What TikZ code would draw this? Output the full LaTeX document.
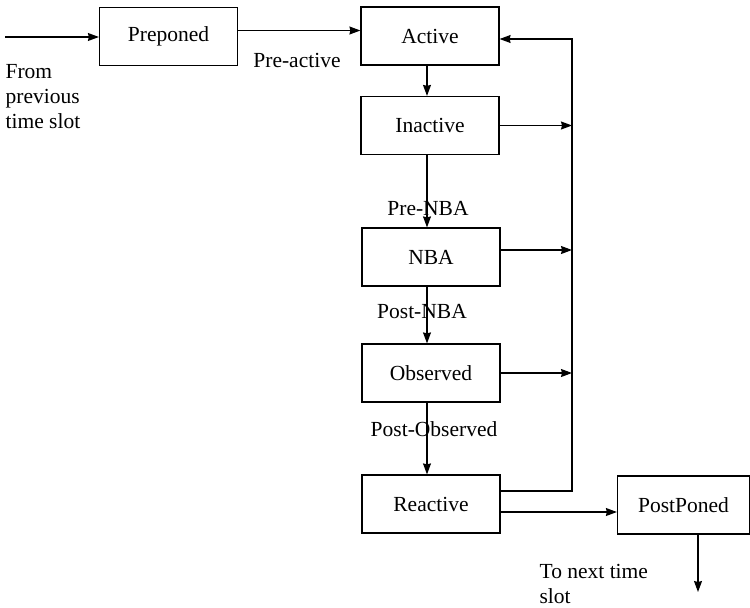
\documentclass[tikz,border=0pt]{standalone}
\usepackage{fontspec}
\setmainfont{Liberation Serif}
\usetikzlibrary{arrows.meta}
\usetikzlibrary{calc,positioning}

\begin{document}
\begin{tikzpicture}[>={Stealth[length=11pt,width=8pt,inset=1pt]}, x=1pt, y=-1pt, line width=1.2pt,
    region/.style={draw, minimum width=138pt, minimum height=58pt, inner sep=0pt, font=\fontsize{21.5}{25}\selectfont},
    lbl/.style={inner sep=0pt, font=\fontsize{21.5}{25}\selectfont, align=left}]

    \useasboundingbox (0,0) rectangle (750,608);

    \node[region] (pre) at (168.5,36.5) {Preponed};
    \node[region] (act) at (430,36) {Active};
    \node[region] (inact) at (430,125.5) {Inactive};
    \node[region] (nba) at (431,257) {NBA};
    \node[region] (obs) at (431,373) {Observed};
    \node[region] (react) at (431,504) {Reactive};
    \node[region, minimum width=132pt] (post) at (683.5,505) {PostPoned};

    \coordinate (start) at (5,37);
    \coordinate (spine) at (427,0);
    \coordinate (bustop) at (572,39);
    \coordinate (next) at (698,592);

    \draw[->] (start) -- (pre.west |- start);
    \draw[->] ([yshift=6pt]pre.east) coordinate (p) -- (p -| act.west);

    \draw[->] (act.south -| spine) -- (inact.north -| spine);
    \draw[->] (inact.south -| spine) -- (nba.north -| spine);
    \draw[->] (nba.south -| spine) -- (obs.north -| spine);
    \draw[->] (obs.south -| spine) -- (react.north -| spine);

    % feedback bus
    \draw[->] ([yshift=13pt]react.east) -| (bustop) -- (act.east |- bustop);
    \draw[->] (inact.east) -- (inact.east -| bustop);
    \draw[->] ([yshift=7pt]nba.east) coordinate (n) -- (n -| bustop);
    \draw[->] (obs.east) -- (obs.east -| bustop);

    \draw[->] ([yshift=-8pt]react.east) coordinate (r) -- (r -| post.west);
    \draw[->] (post.south -| next) -- (next);

    \node[lbl] (prea) at (297,60) {Pre-active};
    \node[lbl] (prenba) at (428,209) {Pre-NBA};
    \node[lbl] (postnba) at (422,312) {Post-NBA};
    \node[lbl] (postobs) at (434,429) {Post-Observed};
    \node[lbl, anchor=north west] (from) at (5,64) {From\\previous\\time slot};
    \node[lbl, anchor=north west] (tonext) at (539,564) {To next time\\slot};

\end{tikzpicture}
\end{document}
